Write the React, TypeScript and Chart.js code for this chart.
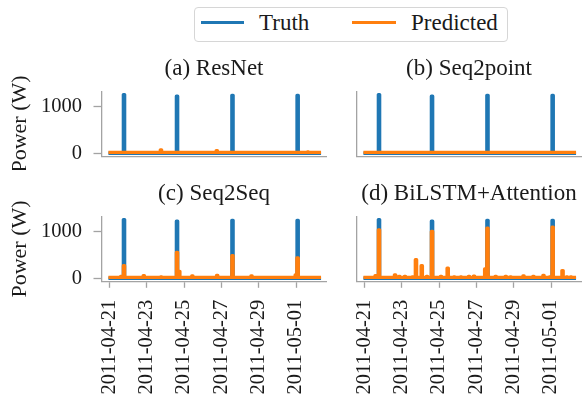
import React, { useEffect, useRef } from "react";
import { Chart, registerables } from "chart.js";

Chart.register(...registerables);

// ---------- data (x = days since 2011-04-21 00:00, y = watts) ----------
const X_TICK_DAYS = [0, 2, 4, 6, 8, 10];
const X_TICK_LABELS = ["2011-04-21", "2011-04-23", "2011-04-25", "2011-04-27", "2011-04-29", "2011-05-01"];
const Y_TICKS = [0, 1000];
const Y_TICK_LABELS = ["0", "1000"];
const X_MIN = -0.42;
const X_MAX = 11.63;
const Y_MIN = -65;
const Y_MAX = 1322;
const SERIES_START = 0.04;
const SERIES_END = 11.25;
const PULSE_WIDTH = 0.07;

const TITLES = ["(a) ResNet", "(b) Seq2point", "(c) Seq2Seq", "(d) BiLSTM+Attention"];
const SERIES_NAMES = ["Truth", "Predicted"];
const Y_LABEL = "Power (W)";

// [day, watts] events
const TRUTH_BASE = 0;
const TRUTH_EVENTS: number[][] = [[0.75, 1260], [3.59, 1225], [6.56, 1245], [10.05, 1240]];

const RESNET_BASE = 20;
const RESNET_EVENTS: number[][] = [[2.73, 75], [5.72, 55], [10.6, 30]];

const SEQ2POINT_BASE = 18;
const SEQ2POINT_EVENTS: number[][] = [];

const SEQ2SEQ_BASE = 18;
const SEQ2SEQ_EVENTS: number[][] = [
  [0.6, 40], [0.75, 270], [1.81, 55], [2.74, 30], [3.59, 555], [3.71, 150],
  [4.41, 50], [5.74, 60], [6.56, 485], [7.58, 50], [9.95, 70], [10.05, 435],
];

const BILSTM_BASE = 20;
const BILSTM_EVENTS: number[][] = [
  [0.57, 55], [0.75, 1040], [1.61, 75], [1.84, 40], [2.14, 40], [2.55, 30],
  [2.73, 400], [3.04, 270], [3.32, 40], [3.59, 1005], [4.07, 40], [4.43, 215],
  [4.78, 30], [5.14, 30], [5.57, 40], [5.84, 45], [6.44, 200], [6.56, 1075],
  [7.0, 40], [7.54, 40], [7.8, 30], [8.49, 50], [9.02, 40], [9.56, 60],
  [9.9, 30], [10.05, 1095], [10.58, 165], [10.81, 30], [11.03, 30],
];

// ---------- styles ----------
const FONT = "'Liberation Serif', 'Times New Roman', serif";
const TEXT = "#1a1a1a";
const SPINE = "#a3a3a3";
const BLUE = "#1f77b4";
const ORANGE = "#ff7f0e";
const LINE_W = 3.3;

function buildSeries(base: number, events: number[][]) {
  const pts: { x: number; y: number }[] = [{ x: SERIES_START, y: base }];
  for (const [d, h] of events) {
    pts.push({ x: d, y: base }, { x: d, y: h }, { x: d + PULSE_WIDTH, y: h }, { x: d + PULSE_WIDTH, y: base });
  }
  pts.push({ x: SERIES_END, y: base });
  return pts;
}

const PRED = [
  [RESNET_BASE, RESNET_EVENTS],
  [SEQ2POINT_BASE, SEQ2POINT_EVENTS],
  [SEQ2SEQ_BASE, SEQ2SEQ_EVENTS],
  [BILSTM_BASE, BILSTM_EVENTS],
] as [number, number[][]][];

type PanelCfg = {
  idx: number;
  left: number;
  top: number;
  width: number;
  height: number;
  yW: number;
  rightW: number;
  xH: number;
  titlePadTop: number;
  titlePadBottom: number;
  showY: boolean;
  showX: boolean;
};

const ROW1_TOP = 40;
const ROW2_TOP = 160;
const PANELS: PanelCfg[] = [
  { idx: 0, left: 0, top: ROW1_TOP, width: 428, height: 130, yW: 101.5, rightW: 101.5, xH: 130 - (156.3 - 40), titlePadTop: 15.4, titlePadBottom: 8.7, showY: true, showX: false },
  { idx: 1, left: 355, top: ROW1_TOP, width: 228, height: 130, yW: 1.5, rightW: 1.5, xH: 130 - (156.3 - 40), titlePadTop: 15.4, titlePadBottom: 8.7, showY: false, showX: false },
  { idx: 2, left: 0, top: ROW2_TOP, width: 428, height: 250, yW: 101.5, rightW: 101.5, xH: 250 - (281.3 - 160), titlePadTop: 20.4, titlePadBottom: 8.7, showY: true, showX: true },
  { idx: 3, left: 355, top: ROW2_TOP, width: 228, height: 250, yW: 1.5, rightW: 1.5, xH: 250 - (281.3 - 160), titlePadTop: 20.4, titlePadBottom: 8.7, showY: false, showX: true },
];

function Panel({ cfg }: { cfg: PanelCfg }) {
  const ref = useRef<HTMLCanvasElement | null>(null);
  useEffect(() => {
    if (!ref.current) return;
    const [pBase, pEvents] = PRED[cfg.idx];
    const lineStyle = {
      borderWidth: LINE_W,
      pointRadius: 0,
      tension: 0,
      borderJoinStyle: "round",
      borderCapStyle: "square",
      xAxisID: "x",
      yAxisID: "y",
    };
    const chart = new Chart(ref.current, {
      type: "line",
      data: {
        datasets: [
          {
            ...lineStyle,
            label: SERIES_NAMES[0],
            data: buildSeries(TRUTH_BASE, TRUTH_EVENTS),
            borderColor: BLUE,
            backgroundColor: BLUE,
            order: 1,
          },
          {
            ...lineStyle,
            label: SERIES_NAMES[1],
            data: buildSeries(pBase, pEvents),
            borderColor: ORANGE,
            backgroundColor: ORANGE,
            order: 0,
          },
        ],
      },
      options: {
        animation: false,
        responsive: false,
        events: [],
        layout: { padding: 0 },
        plugins: {
          legend: { display: false },
          tooltip: { enabled: false },
          title: {
            display: true,
            text: TITLES[cfg.idx],
            color: TEXT,
            font: { family: FONT, size: 23, weight: "normal", lineHeight: 1.2 },
            padding: { top: cfg.titlePadTop, bottom: cfg.titlePadBottom },
          },
        },
        scales: {
          x: {
            type: "linear",
            position: "bottom",
            min: X_MIN,
            max: X_MAX,
            afterBuildTicks: (s: any) => {
              s.ticks = X_TICK_DAYS.map((v) => ({ value: v }));
            },
            afterFit: (s: any) => {
              s.height = cfg.xH;
              s.paddingLeft = 0;
              s.paddingRight = 0;
            },
            ticks: {
              display: cfg.showX,
              autoSkip: false,
              minRotation: 90,
              maxRotation: 90,
              padding: 11.9,
              color: TEXT,
              font: { family: FONT, size: 20.5 },
              callback: (v: any) => X_TICK_LABELS[X_TICK_DAYS.indexOf(Number(v))],
            },
            grid: {
              display: cfg.showX,
              drawOnChartArea: false,
              drawTicks: true,
              tickLength: 6.5,
              tickWidth: 1.3,
              tickColor: SPINE,
            },
            border: { display: true, color: SPINE, width: 1.3 },
          },
          y: {
            type: "linear",
            position: "left",
            min: Y_MIN,
            max: Y_MAX,
            afterBuildTicks: (s: any) => {
              s.ticks = Y_TICKS.map((v) => ({ value: v }));
            },
            afterFit: (s: any) => {
              s.width = cfg.yW;
              s.paddingTop = 0;
              s.paddingBottom = 0;
            },
            ticks: {
              display: cfg.showY,
              autoSkip: false,
              padding: 11.5,
              color: TEXT,
              font: { family: FONT, size: 20.5 },
              callback: (v: any) => Y_TICK_LABELS[Y_TICKS.indexOf(Number(v))],
            },
            grid: {
              display: cfg.showY,
              drawOnChartArea: false,
              drawTicks: true,
              tickLength: 8,
              tickWidth: 1.3,
              tickColor: SPINE,
            },
            border: { display: true, color: SPINE, width: 1.3 },
            title: {
              display: cfg.showY,
              text: Y_LABEL,
              color: TEXT,
              font: { family: FONT, size: 22, lineHeight: 1.2 },
              padding: { top: 6.8, bottom: 0 },
            },
          },
          yR: {
            type: "linear",
            position: "right",
            display: true,
            ticks: { display: false },
            grid: { display: false },
            border: { display: false },
            afterFit: (s: any) => {
              s.width = cfg.rightW;
              s.paddingTop = 0;
              s.paddingBottom = 0;
            },
          },
        },
      } as any,
    } as any);
    return () => chart.destroy();
  }, [cfg]);
  return (
    <canvas
      ref={ref}
      width={cfg.width}
      height={cfg.height}
      style={{ position: "absolute", left: cfg.left, top: cfg.top, width: cfg.width, height: cfg.height }}
    />
  );
}

function Legend() {
  const text: React.CSSProperties = {
    position: "absolute",
    top: 11.4,
    fontFamily: FONT,
    fontSize: 23,
    lineHeight: "23px",
    color: TEXT,
    whiteSpace: "nowrap",
  };
  return (
    <>
      <div
        style={{
          position: "absolute",
          left: 194,
          top: 6.7,
          width: 314,
          height: 35.6,
          boxSizing: "border-box",
          border: "1.6px solid #d6d6d6",
          borderRadius: 4,
          background: "#ffffff",
        }}
      />
      <div style={{ position: "absolute", left: 200.7, top: 21.05, width: 43.6, height: 3.3, background: BLUE }} />
      <span style={{ ...text, left: 259 }}>{SERIES_NAMES[0]}</span>
      <div style={{ position: "absolute", left: 351.7, top: 21.05, width: 44.3, height: 3.3, background: ORANGE }} />
      <span style={{ ...text, left: 411 }}>{SERIES_NAMES[1]}</span>
    </>
  );
}

export default function App() {
  return (
    <div
      style={{
        position: "absolute",
        left: 0,
        top: 0,
        width: 582,
        height: 402,
        overflow: "hidden",
        background: "#ffffff",
      }}
    >
      {PANELS.map((p) => (
        <Panel key={p.idx} cfg={p} />
      ))}
      <Legend />
    </div>
  );
}
